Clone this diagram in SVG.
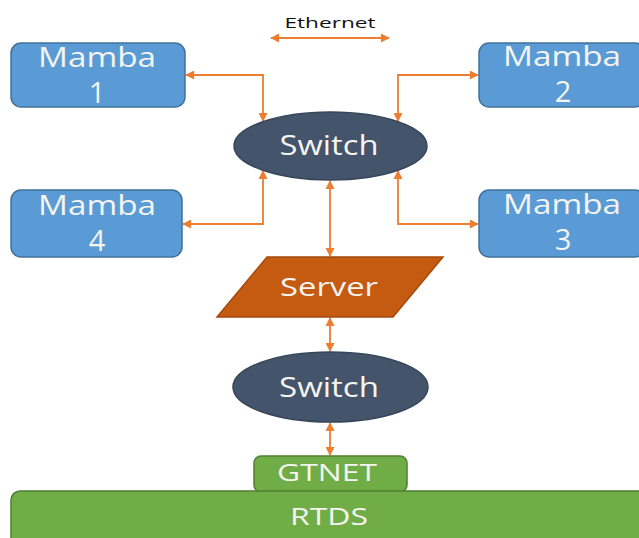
<svg xmlns="http://www.w3.org/2000/svg" width="639" height="538" viewBox="0 0 639 538">
<defs>
<style>
.mamba{fill:#5B9BD5;stroke:#41719C;stroke-width:1.5}
.sw{fill:#44546A;stroke:#36455A;stroke-width:1.5}
.srv{fill:#C55A11;stroke:#A44A0E;stroke-width:1.5}
.grn{fill:#70AD47;stroke:#507E32;stroke-width:1.5}
.t{font-family:"Open Sans","DejaVu Sans",sans-serif;fill:#F4F4F0;text-anchor:middle}
.eth{font-family:"Open Sans","DejaVu Sans",sans-serif;fill:#111;text-anchor:middle;font-size:15px}
.c{fill:none;stroke:#ED7D31;stroke-width:1.8}
</style>
<marker id="ah" viewBox="0 0 10 10" refX="9" refY="5" markerWidth="10" markerHeight="9" markerUnits="userSpaceOnUse" orient="auto-start-reverse">
<path d="M0,0 L10,5 L0,10 z" fill="#ED7D31"/>
</marker>
</defs>

<g id="connectors">
<line class="c" x1="271" y1="38" x2="389" y2="38" marker-start="url(#ah)" marker-end="url(#ah)"/>
<path class="c" d="M186,75 H263 V121" marker-start="url(#ah)" marker-end="url(#ah)"/>
<path class="c" d="M478,75 H398 V121" marker-start="url(#ah)" marker-end="url(#ah)"/>
<path class="c" d="M183,224 H263 V171" marker-start="url(#ah)" marker-end="url(#ah)"/>
<path class="c" d="M478,224 H398 V171" marker-start="url(#ah)" marker-end="url(#ah)"/>
<line class="c" x1="330" y1="181" x2="330" y2="256" marker-start="url(#ah)" marker-end="url(#ah)"/>
<line class="c" x1="330" y1="318" x2="330" y2="351" marker-start="url(#ah)" marker-end="url(#ah)"/>
<line class="c" x1="330" y1="423" x2="330" y2="455" marker-start="url(#ah)" marker-end="url(#ah)"/>
</g>

<g id="ethernet-label">
<text class="eth" x="330" y="28" textLength="91" lengthAdjust="spacingAndGlyphs">Ethernet</text>
</g>

<g id="mamba1">
<rect class="mamba" x="11" y="43" width="174" height="64" rx="10"/>
<text class="t" x="97" y="67" font-size="28" textLength="118" lengthAdjust="spacingAndGlyphs">Mamba</text>
<text class="t" x="97" y="103" font-size="29">1</text>
</g>

<g id="mamba2">
<rect class="mamba" x="479" y="43" width="166" height="64" rx="10"/>
<text class="t" x="562" y="66" font-size="28" textLength="118" lengthAdjust="spacingAndGlyphs">Mamba</text>
<text class="t" x="563" y="102" font-size="29">2</text>
</g>

<g id="mamba4">
<rect class="mamba" x="11" y="190" width="171" height="67" rx="10"/>
<text class="t" x="97" y="215" font-size="28" textLength="118" lengthAdjust="spacingAndGlyphs">Mamba</text>
<text class="t" x="97" y="251" font-size="29">4</text>
</g>

<g id="mamba3">
<rect class="mamba" x="479" y="190" width="166" height="67" rx="10"/>
<text class="t" x="562" y="214" font-size="28" textLength="118" lengthAdjust="spacingAndGlyphs">Mamba</text>
<text class="t" x="563" y="250" font-size="29">3</text>
</g>

<g id="switch1">
<ellipse class="sw" cx="330.5" cy="146" rx="96.5" ry="34"/>
<text class="t" x="329" y="155" font-size="27" textLength="99" lengthAdjust="spacingAndGlyphs">Switch</text>
</g>

<g id="server">
<polygon class="srv" points="267,257 443,257 393,317 217,317"/>
<text class="t" x="329" y="296" font-size="25" textLength="98" lengthAdjust="spacingAndGlyphs">Server</text>
</g>

<g id="switch2">
<ellipse class="sw" cx="330.5" cy="387" rx="97.5" ry="35"/>
<text class="t" x="329" y="397" font-size="27" textLength="100" lengthAdjust="spacingAndGlyphs">Switch</text>
</g>

<g id="gtnet">
<rect class="grn" x="254" y="456" width="153" height="36" rx="7"/>
<text class="t" x="327" y="481" font-size="23" textLength="100" lengthAdjust="spacingAndGlyphs">GTNET</text>
</g>

<g id="rtds">
<rect class="grn" x="11" y="491" width="640" height="60" rx="9"/>
<text class="t" x="329" y="525" font-size="24" textLength="78" lengthAdjust="spacingAndGlyphs">RTDS</text>
</g>
</svg>
